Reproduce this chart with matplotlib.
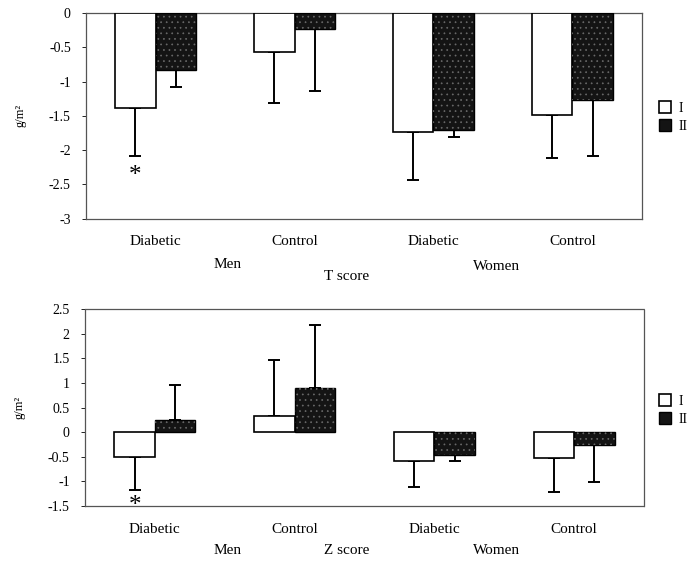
import matplotlib
matplotlib.use("Agg")
import matplotlib.pyplot as plt
import numpy as np

categories = ["Diabetic", "Control", "Diabetic", "Control"]
groups = ["Men", "Women"]
series_names = ["I", "II"]

t_I = [-1.38, -0.57, -1.73, -1.49]
t_II = [-0.83, -0.23, -1.71, -1.27]
t_I_err = [0.70, 0.74, 0.70, 0.62]
t_II_err = [0.25, 0.91, 0.10, 0.81]
t_ticks = [0, -0.5, -1, -1.5, -2, -2.5, -3]

z_I = [-0.51, 0.32, -0.59, -0.53]
z_II = [0.24, 0.90, -0.46, -0.26]
z_I_err = [0.67, 1.14, 0.53, 0.69]
z_II_err = [0.71, 1.28, 0.12, 0.76]
z_ticks = [2.5, 2, 1.5, 1, 0.5, 0, -0.5, -1, -1.5]

serif = ["Liberation Serif", "DejaVu Serif"]
plt.rcParams["font.family"] = serif
plt.rcParams["hatch.linewidth"] = 0.5

fig = plt.figure(figsize=(6.94, 5.61), dpi=100)
ax1 = fig.add_axes([0.124, 0.610, 0.801, 0.367])
ax2 = fig.add_axes([0.1225, 0.098, 0.8055, 0.351])

W = 0.29
x = np.arange(len(categories))


def fmt(v):
    return "%g" % v


def draw(ax, vI, vII, eI, eII, ticks, ylim, star_y):
    for vals, errs, off, name in [(vI, eI, -W / 2, "I"), (vII, eII, W / 2, "II")]:
        vals = np.array(vals)
        errs = np.array(errs)
        if name == "I":
            ax.bar(x + off, vals, W, color="white", edgecolor="black",
                   linewidth=1.2, zorder=3, label=name)
        else:
            ax.bar(x + off, vals, W, color="#141414", edgecolor="black",
                   linewidth=1.0, zorder=3, label=name)
            ax.bar(x + off, vals, W, color="none", edgecolor="#6a6a6a",
                   hatch="...", linewidth=0, zorder=4)
        lower = np.where(vals < 0, errs, 0)
        upper = np.where(vals >= 0, errs, 0)
        ax.errorbar(x + off, vals, yerr=[lower, upper], fmt="none",
                    ecolor="black", elinewidth=1.4, capsize=4.5, capthick=1.4,
                    zorder=2)
    ax.set_xlim(-0.5, 3.5)
    ax.set_ylim(*ylim)
    ax.set_yticks(ticks)
    ax.set_yticklabels([fmt(t) for t in ticks], fontsize=10)
    ax.set_xticks(x)
    ax.set_xticklabels(categories, fontsize=11)
    ax.tick_params(axis="x", length=0, pad=12)
    ax.tick_params(axis="y", length=3, pad=8, direction="out", width=0.6)
    for s in ax.spines.values():
        s.set_linestyle((0, (1, 1)))
        s.set_color("#555555")
        s.set_linewidth(0.9)
    ax.set_ylabel("g/m²", fontsize=9, labelpad=16)
    ax.text(x[0] - W / 2, star_y, "*", ha="center", va="center",
            fontsize=18, zorder=6)


draw(ax1, t_I, t_II, t_I_err, t_II_err, t_ticks, (-3, 0), -2.38)
draw(ax2, z_I, z_II, z_I_err, z_II_err, z_ticks, (-1.5, 2.5), -1.5)


def ftext(px, py, s, size=11):
    fig.text(px / 694, 1 - py / 561, s, ha="center", va="center", fontsize=size)


ftext(228, 265, groups[0])
ftext(347, 277, "T score")
ftext(497, 266, groups[1])
ftext(228, 550, groups[0])
ftext(347, 550, "Z score")
ftext(497, 550, groups[1])

from matplotlib.patches import Patch
for ly in [1 - 117 / 561, 1 - 410 / 561]:
    h1 = Patch(facecolor="white", edgecolor="black", linewidth=1.2)
    h2 = Patch(facecolor="#141414", edgecolor="black", linewidth=1.0)
    fig.legend([h1, h2], series_names, loc="center left",
               bbox_to_anchor=(652 / 694, ly), frameon=False, fontsize=10,
               handlelength=0.9, handleheight=0.9, handletextpad=0.5,
               labelspacing=0.3, borderpad=0)

fig.savefig("out.png", dpi=100, facecolor="white")
